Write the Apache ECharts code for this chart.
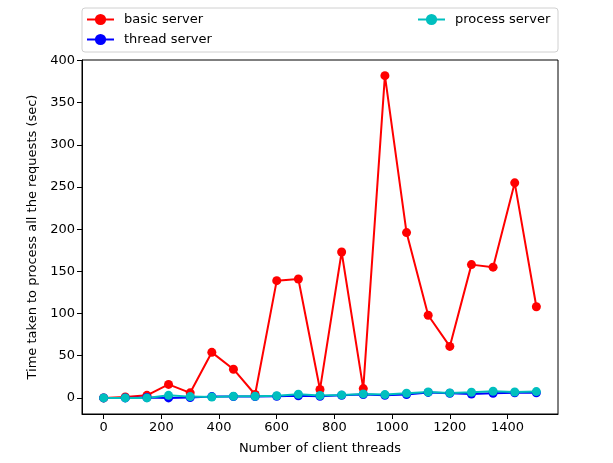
<!DOCTYPE html>
<html>
<head>
<meta charset="utf-8">
<script src="https://cdn.jsdelivr.net/npm/echarts@6/dist/echarts.min.js"></script>
<style>html,body{margin:0;padding:0;background:#fff;}#c{width:613px;height:463px;}</style>
</head>
<body>
<div id="c"></div>
<script>
const clientThreads = [0,75,150,225,300,375,450,525,600,675,750,825,900,975,1050,1125,1200,1275,1350,1425,1500];
const basicServer   = [0,1,3,16,6,54,34,4,139,141,10,173,11,382,196,98,61,158,155,255,108];
const threadServer  = [0,0,0.5,0,0.5,1.5,1.5,1.5,2,2.5,2,3,4,3,4,6.5,5.5,4.5,5.5,6,6];
const processServer = [0,0,0,3,1.5,1,2,2,2.5,4.3,2.8,3.5,4.7,3.9,5.5,7,5.9,6.7,7.9,7,7.5];
const xTicks = [0,200,400,600,800,1000,1200,1400];
const yTicks = [0,50,100,150,200,250,300,350,400];

const font = 'DejaVu Sans';
function pairs(ys){ return clientThreads.map((x,i)=>[x, ys[i]]); }
function mk(name, color, ys){
  return {
    name, type:'line', data: pairs(ys), symbol:'circle', symbolSize:9,
    lineStyle:{color, width:2}, itemStyle:{color},
    emphasis:{disabled:true}, animation:false
  };
}
const chart = echarts.init(document.getElementById('c'), null, {renderer:'canvas'});
chart.setOption({
  backgroundColor:'#fff',
  animation:false,
  textStyle:{fontFamily:font},
  grid:{left:82, right:55, top:60, bottom:49, show:true, borderColor:'#000', borderWidth:1, containLabel:false},
  graphic:[{type:'rect', shape:{x:82, y:8, width:476, height:44, r:3}, style:{fill:'rgba(255,255,255,0.8)', stroke:'#d0d0d0', lineWidth:1}, z:-1}],
  legend:[
    {left:86, top:13, orient:'vertical', padding:0, itemWidth:27, itemHeight:14, itemGap:7,
     data:['basic server','thread server'], textStyle:{fontFamily:font, fontSize:13, color:'#000', padding:[0,0,0,5]}},
    {left:417, top:13, orient:'vertical', padding:0, itemWidth:27, itemHeight:14, itemGap:7,
     data:['process server'], textStyle:{fontFamily:font, fontSize:13, color:'#000', padding:[0,0,0,5]}}
  ],
  xAxis:{
    type:'value', min:-75, max:1575,
    name:'Number of client threads', nameLocation:'middle', nameGap:28,
    nameTextStyle:{fontFamily:font, fontSize:13, color:'#000'},
    axisLine:{show:true, onZero:false, lineStyle:{color:'#000'}},
    axisTick:{show:true, length:5, lineStyle:{color:'#000'}, customValues:xTicks},
    axisLabel:{fontFamily:font, fontSize:13, color:'#000', margin:7, customValues:xTicks, formatter:v=>String(v)},
    splitLine:{show:false}
  },
  yAxis:{
    type:'value', min:-19.1, max:400.6,
    name:'Time taken to process all the requests (sec)', nameLocation:'middle', nameGap:42, nameRotate:90,
    nameTextStyle:{fontFamily:font, fontSize:13, color:'#000'},
    axisLine:{show:true, onZero:false, lineStyle:{color:'#000'}},
    axisTick:{show:true, length:5, lineStyle:{color:'#000'}, customValues:yTicks},
    axisLabel:{fontFamily:font, fontSize:13, color:'#000', margin:7, customValues:yTicks, formatter:v=>String(v)},
    splitLine:{show:false}
  },
  series:[
    mk('basic server','#ff0000', basicServer),
    mk('thread server','#0000ff', threadServer),
    mk('process server','#00bfbf', processServer)
  ]
});
</script>
</body>
</html>
